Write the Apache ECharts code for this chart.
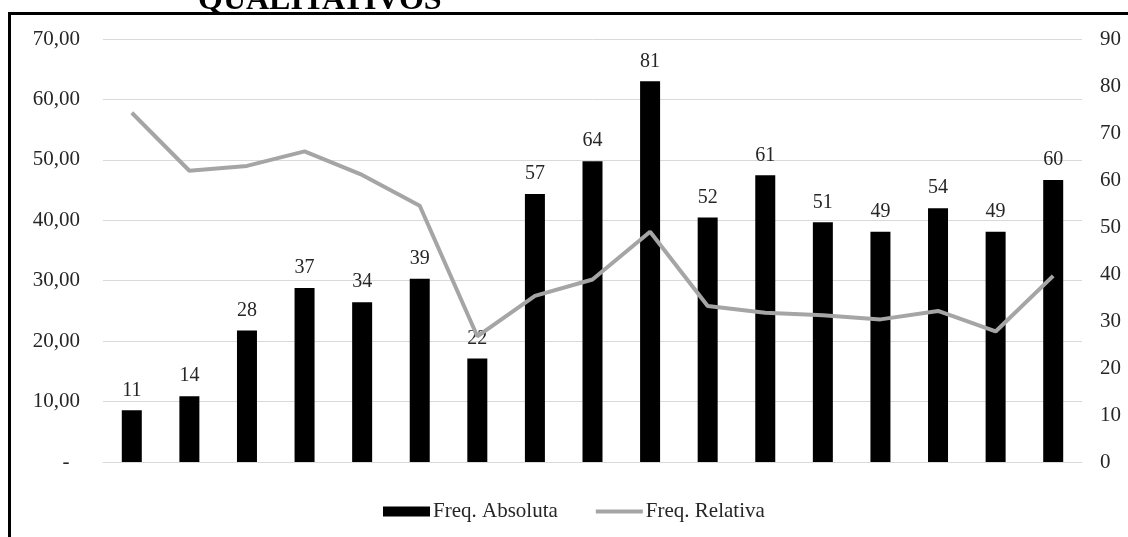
<!DOCTYPE html>
<html>
<head>
<meta charset="utf-8">
<script src="https://cdn.jsdelivr.net/npm/echarts@6/dist/echarts.min.js"></script>
<style>
html, body { margin: 0; padding: 0; background: #fff; }
#chart { width: 1128px; height: 537px; }
</style>
</head>
<body>
<div id="chart"></div>
<script>
// dados
const categorias = ['1', '2', '3', '4', '5', '6', '7', '8', '9', '10', '11', '12', '13', '14', '15', '16', '17']
const freqAbsoluta = [11, 14, 28, 37, 34, 39, 22, 57, 64, 81, 52, 61, 51, 49, 54, 49, 60]
const freqRelativa = [57.8, 48.2, 49.0, 51.4, 47.5, 42.4, 20.8, 27.5, 30.2, 38.1, 25.8, 24.7, 24.3, 23.6, 25.0, 21.6, 30.8]

const fonte = '"Liberation Serif", "Times New Roman", serif'
const corTexto = '#262626'

const chart = echarts.init(document.getElementById('chart'), null, { renderer: 'canvas' })

chart.setOption({
    backgroundColor: '#fff',
    animation: false,
    textStyle: { fontFamily: fonte },
    graphic: [{
            type: 'text',
            z: 10,
            style: {
                text: 'QUALITATIVOS',
                x: 198,
                y: 17,
                font: 'bold 32px ' + fonte,
                fill: '#000',
                verticalAlign: 'bottom'
            }
        },
        {
            // moldura da figura
            type: 'rect',
            z: 11,
            shape: { x: 9.5, y: 13.5, width: 1300, height: 700 },
            style: { fill: 'none', stroke: '#000', lineWidth: 3 }
        }
    ],
    legend: {
        left: 378,
        top: 496,
        itemWidth: 47,
        itemHeight: 10,
        itemGap: 36,
        textStyle: { fontFamily: fonte, fontSize: 21, color: corTexto, padding: [0, 0, 0, -2] },
        data: [
            { name: 'Freq. Absoluta', icon: 'rect' },
            { name: 'Freq. Relativa', itemStyle: { opacity: 0 }, lineStyle: { width: 4 } }
        ]
    },
    grid: {
        left: 103,
        right: 46,
        top: 39,
        bottom: 75,
        containLabel: false,
        outerBoundsMode: 'none'
    },
    xAxis: [{
        type: 'category',
        data: categorias,
        axisLine: { show: true, lineStyle: { color: '#d9d9d9' } },
        axisTick: { show: false },
        axisLabel: { show: false }
    }],
    yAxis: [{
            type: 'value',
            min: 0,
            max: 70,
            interval: 10,
            axisLine: { show: false },
            axisTick: { show: false },
            splitLine: { lineStyle: { color: '#d9d9d9', width: 1 } },
            axisLabel: {
                margin: 23,
                fontFamily: fonte,
                fontSize: 21,
                color: corTexto,
                formatter: v => v === 0 ? '-  ' : v.toFixed(2).replace('.', ',')
            }
        },
        {
            type: 'value',
            min: 0,
            max: 90,
            interval: 10,
            axisLine: { show: false },
            axisTick: { show: false },
            splitLine: { show: false },
            axisLabel: {
                margin: 18,
                fontFamily: fonte,
                fontSize: 21,
                color: corTexto
            }
        }
    ],
    series: [{
            name: 'Freq. Absoluta',
            type: 'bar',
            yAxisIndex: 1,
            data: freqAbsoluta,
            barWidth: 20,
            itemStyle: { color: '#000' },
            label: {
                show: true,
                position: 'top',
                distance: 10,
                fontFamily: fonte,
                fontSize: 20,
                color: corTexto
            }
        },
        {
            name: 'Freq. Relativa',
            type: 'line',
            yAxisIndex: 0,
            data: freqRelativa,
            symbol: 'none',
            z: 3,
            lineStyle: { color: '#a5a5a5', width: 4 },
            itemStyle: { color: '#a5a5a5' }
        }
    ]
})
</script>
</body>
</html>
